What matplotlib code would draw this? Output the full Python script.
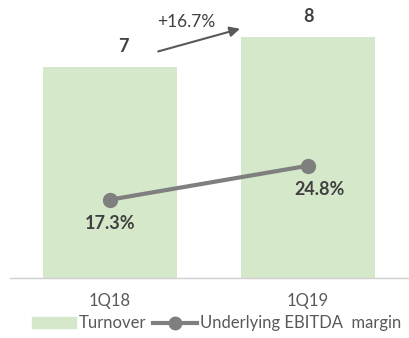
import matplotlib.pyplot as plt
from matplotlib.lines import Line2D
from matplotlib.patches import Patch

categories = ["1Q18", "1Q19"]
turnover = [7, 8]
margin = [17.3, 24.8]
margin_labels = ["17.3%", "24.8%"]
growth_label = "+16.7%"

BAR_COLOR = "#d5e8c9"
LINE_COLOR = "#7f7f7f"
TEXT_COLOR = "#404040"

plt.rcParams["font.family"] = ["Lato", "DejaVu Sans"]

fig = plt.figure(figsize=(4.09, 3.38), dpi=100)
ax = fig.add_axes([0.0244, 0.1775, 0.9756, 0.7635])
x = list(range(len(categories)))

ax.bar(x, turnover, width=0.68, color=BAR_COLOR, zorder=1)
ax.set_xlim(-0.505, 1.51)
ax.set_ylim(0, 8.57)
for xi, v in zip(x, turnover):
    ax.text(xi + (0.07 if xi == 0 else 0), v + 0.4, str(v), ha="center", va="bottom",
            fontsize=13, fontweight="bold", color=TEXT_COLOR)

ax2 = ax.twinx()
ax2.set_ylim(0, 57)
ax2.plot(x, margin, color=LINE_COLOR, lw=3, marker="o", ms=10, zorder=3)
ax2.text(x[0], margin[0] - 3.4, margin_labels[0], ha="center", va="top",
         fontsize=13, fontweight="bold", color=TEXT_COLOR)
ax2.text(x[1] + 0.06, margin[1] - 3.4, margin_labels[1], ha="center", va="top",
         fontsize=13, fontweight="bold", color=TEXT_COLOR)

# growth arrow between the bars
ax.annotate("", xy=(0.67, 8.3), xytext=(0.23, 7.5),
            arrowprops=dict(arrowstyle="-|>", color="#595959", lw=1.5, mutation_scale=15))
ax.text(0.385, 8.22, growth_label, ha="center", va="bottom", fontsize=12.5,
        color=TEXT_COLOR)

for a in (ax, ax2):
    for s in ("top", "right", "left"):
        a.spines[s].set_visible(False)
    a.set_yticks([])
ax2.spines["bottom"].set_visible(False)
ax.spines["bottom"].set_color("#d0d0d0")
ax.spines["bottom"].set_linewidth(1)
ax.set_xticks(x)
ax.set_xticklabels(categories, fontsize=12, color="#595959")
ax.tick_params(axis="x", length=0, pad=11)

handles = [Patch(color=BAR_COLOR),
           Line2D([0], [0], color=LINE_COLOR, lw=3, marker="o", ms=9)]
fig.legend(handles, ["Turnover", "Underlying EBITDA  margin"], loc="lower center",
           bbox_to_anchor=(0.53, -0.025), ncol=2, frameon=False, fontsize=12,
           handlelength=2.6, handletextpad=0.2, columnspacing=0.4,
           labelcolor="#595959")

fig.savefig("out.png", dpi=100)
